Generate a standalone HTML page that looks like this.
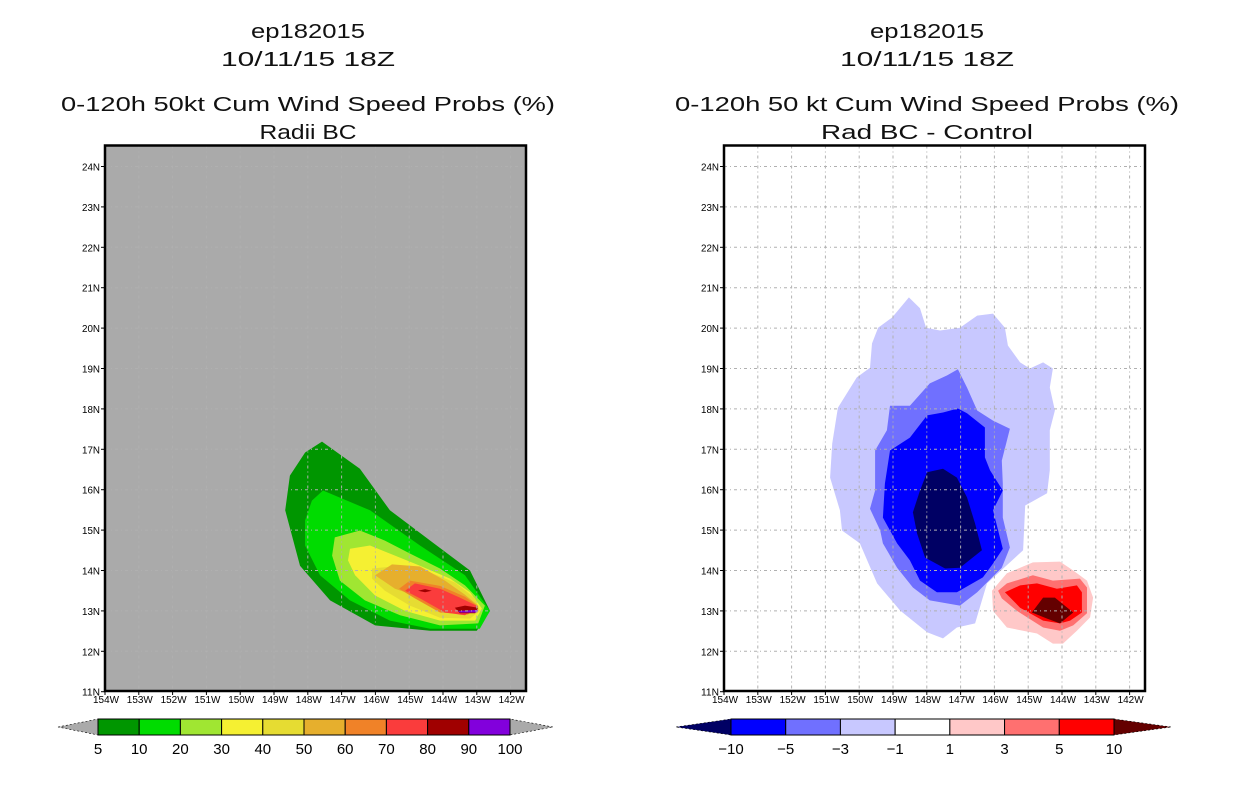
<!DOCTYPE html>
<html><head><meta charset="utf-8"><style>
html,body{margin:0;padding:0;background:#fff;}
svg{display:block;font-family:"Liberation Sans",sans-serif;}
</style></head><body>
<svg id="chart" width="1236" height="800" viewBox="0 0 1236 800" xmlns="http://www.w3.org/2000/svg"></svg>
<script>
// ---------- data ----------
const lonTicks = [-154,-153,-152,-151,-150,-149,-148,-147,-146,-145,-144,-143,-142];
const lonLabels = ["154W","153W","152W","151W","150W","149W","148W","147W","146W","145W","144W","143W","142W"];
const latTicks = [11,12,13,14,15,16,17,18,19,20,21,22,23,24];
const latLabels = ["11N","12N","13N","14N","15N","16N","17N","18N","19N","20N","21N","22N","23N","24N"];

// left panel contour levels (probability %) and polygons [lon,lat]
const probLevels = [5,10,20,30,40,50,60,70,80,90,100];
const probColors = ["#009600","#00dc00","#a0e632","#f5f032","#e6dc32","#e6af2d","#f08228","#fa3c3c","#a00000","#8200dc"];
const prob5 = [[-147.58,17.19],[-146.46,16.52],[-145.57,15.49],[-144.38,14.74],[-143.2,14.0],[-142.61,13.0],[-143.0,12.51],[-144.38,12.51],[-146.01,12.64],[-147.34,13.26],[-148.23,14.12],[-148.67,15.49],[-148.53,16.35],[-148.08,16.92]];
const prob10 = [[-147.55,15.98],[-146.16,15.49],[-144.68,14.62],[-143.35,13.88],[-142.61,13.0],[-142.91,12.56],[-144.38,12.56],[-145.57,12.76],[-146.75,13.26],[-147.64,13.88],[-148.08,14.62],[-148.08,15.24],[-147.88,15.73]];
const prob20 = [[-147.2,14.82],[-146.46,14.99],[-145.72,14.74],[-144.98,14.42],[-144.09,14.05],[-143.35,13.63],[-142.76,13.13],[-142.96,12.69],[-144.09,12.64],[-145.27,12.89],[-146.31,13.26],[-147.05,13.75],[-147.28,14.37]];
const prob30 = [[-146.75,14.54],[-146.16,14.62],[-145.42,14.37],[-144.68,14.12],[-143.79,13.8],[-143.2,13.46],[-142.85,13.06],[-143.05,12.76],[-144.09,12.76],[-145.12,13.0],[-146.01,13.38],[-146.6,13.88],[-146.81,14.25]];
const prob40 = [[-146.1,14.05],[-145.27,14.12],[-144.38,13.95],[-143.64,13.7],[-143.05,13.31],[-142.91,13.0],[-143.2,12.81],[-144.09,12.83],[-144.98,13.13],[-145.72,13.5],[-146.1,13.8]];
const prob50 = [[-146.01,13.88],[-145.51,14.15],[-144.68,14.1],[-143.94,13.75],[-143.35,13.4],[-142.96,13.13],[-143.2,12.94],[-144.09,13.06],[-144.83,13.38],[-145.42,13.55]];
const prob60 = [[-145.3,13.55],[-144.98,13.75],[-144.09,13.62],[-143.35,13.35],[-142.96,13.11],[-143.26,12.91],[-144.09,12.96],[-144.83,13.31]];
const prob70 = [[-145.12,13.5],[-144.83,13.68],[-144.09,13.55],[-143.5,13.33],[-142.96,13.11],[-143.35,12.89],[-143.94,12.96],[-144.68,13.31]];
const prob80a = [[-143.65,13.08],[-143.35,13.13],[-142.96,13.08],[-143.05,12.94],[-143.5,12.94]];
const prob80b = [[-144.74,13.5],[-144.53,13.54],[-144.33,13.5],[-144.53,13.46]];
const prob90 = [[-143.56,13.0],[-142.96,13.03],[-142.99,12.96],[-143.5,12.96]];

// right panel difference levels
const diffLevels = [-10,-5,-3,-1,1,3,5,10];
const diffColors = ["#000064","#0000ff","#7070ff","#c8c8ff","#ffffff","#ffc8c8","#ff7070","#ff0000","#640000"];
const diffM1 = [[-148.53,20.76],[-148.2,20.49],[-148.02,20.01],[-147.61,19.94],[-147.02,20.01],[-146.51,20.31],[-146.04,20.36],[-145.69,20.01],[-145.6,19.57],[-145.24,19.15],[-144.95,19.0],[-144.56,19.15],[-144.27,19.0],[-144.36,18.53],[-144.21,17.96],[-144.36,17.47],[-144.36,16.48],[-144.44,15.91],[-145.09,15.61],[-145.15,14.5],[-146.22,13.68],[-146.57,12.69],[-147.11,12.59],[-147.52,12.32],[-147.99,12.47],[-148.79,13.01],[-149.47,13.68],[-149.98,14.67],[-150.51,14.99],[-150.57,15.49],[-150.86,16.3],[-150.8,17.14],[-150.63,18.03],[-150.07,18.78],[-149.68,19.02],[-149.62,19.62],[-149.44,20.01],[-149.03,20.26]];
const diffM3 = [[-147.08,18.98],[-146.81,18.53],[-146.51,17.96],[-146.04,17.71],[-145.54,17.51],[-145.78,16.72],[-145.75,16.15],[-145.75,15.31],[-145.54,14.57],[-145.78,14.07],[-146.51,13.46],[-147.02,13.13],[-147.91,13.26],[-148.41,13.58],[-148.88,14.07],[-149.3,14.67],[-149.38,14.99],[-149.68,15.53],[-149.53,15.98],[-149.53,16.97],[-149.18,17.47],[-149.09,18.08],[-148.5,18.08],[-147.91,18.63],[-147.4,18.83]];
const diffM5 = [[-147.08,18.01],[-146.81,17.89],[-146.28,17.54],[-146.28,16.8],[-146.13,16.48],[-145.75,15.98],[-146.04,15.49],[-145.75,14.54],[-146.04,14.17],[-146.34,13.83],[-147.11,13.46],[-147.7,13.46],[-148.2,13.75],[-148.5,14.25],[-148.88,14.67],[-149.3,15.31],[-149.24,16.15],[-149.09,16.97],[-148.5,17.29],[-147.99,17.84],[-147.52,17.91]];
const diffM10 = [[-147.99,16.43],[-147.52,16.52],[-147.11,16.3],[-146.81,15.81],[-146.57,15.16],[-146.37,14.5],[-147.02,14.07],[-147.46,14.05],[-148.05,14.32],[-148.29,14.92],[-148.41,15.44],[-148.2,15.98]];
const diffP1 = [[-146.07,13.5],[-145.63,13.93],[-144.86,14.2],[-144.06,14.22],[-143.67,14.0],[-143.26,13.75],[-143.08,13.33],[-143.17,12.84],[-143.56,12.51],[-143.97,12.19],[-144.27,12.19],[-144.74,12.44],[-145.63,12.59],[-146.04,13.0]];
const diffP3 = [[-145.89,13.5],[-145.63,13.68],[-144.86,13.88],[-144.27,13.75],[-143.47,13.8],[-143.26,13.58],[-143.26,12.94],[-143.67,12.64],[-144.06,12.51],[-144.56,12.59],[-145.33,13.0],[-145.78,13.31]];
const diffP5 = [[-145.69,13.46],[-145.24,13.63],[-144.74,13.68],[-144.15,13.55],[-143.56,13.63],[-143.41,13.46],[-143.41,12.96],[-143.76,12.76],[-144.06,12.69],[-144.56,12.76],[-145.24,13.08]];
const diffP10 = [[-144.56,13.33],[-144.21,13.33],[-143.67,12.96],[-144.06,12.69],[-144.44,12.81],[-144.89,12.96]];

// ---------- drawing ----------
const NS = "http://www.w3.org/2000/svg";
const svg = document.getElementById("chart");
function mk(tag, attrs, parent){ const e=document.createElementNS(NS,tag); for(const k in attrs) e.setAttribute(k,attrs[k]); (parent||svg).appendChild(e); return e; }

function makePanel(x0){
  const left=x0, top=145.5, right=x0+421, bottom=691;
  const xs = lon => x0 + (lon + 154) * 33.8;
  const ys = lat => 166.5 + (24 - lat) * 40.4;
  return {left,top,right,bottom,xs,ys};
}
const P1 = makePanel(105), P2 = makePanel(724);

function title(lines, cx){
  lines.forEach(l=>{
    const t = mk("text",{x:cx,y:l.y,"text-anchor":"middle","font-size":20,textLength:l.w,lengthAdjust:"spacingAndGlyphs",fill:"#111"});
    
    
    t.textContent = l.t;
  });
}
title([{t:"ep182015",y:38,w:114,name:"case-id-title"},{t:"10/11/15 18Z",y:66,w:174,name:"date-title"},
       {t:"0-120h 50kt Cum Wind Speed Probs (%)",y:111,w:494,name:"chart-title"},{t:"Radii BC",y:139,w:97,name:"chart-subtitle"}],308);
title([{t:"ep182015",y:38,w:114,name:"case-id-title"},{t:"10/11/15 18Z",y:66,w:174,name:"date-title"},
       {t:"0-120h 50 kt Cum Wind Speed Probs (%)",y:111,w:504,name:"chart-title"},{t:"Rad BC - Control",y:139,w:212,name:"chart-subtitle"}],927);

function poly(P, pts, color, name, g){
  const p = mk("polygon",{points: pts.map(d=>P.xs(d[0]).toFixed(1)+","+P.ys(d[1]).toFixed(1)).join(" "), fill:color}, g);
  
  
}

function drawPanel(P, bg, polys, pname){
  const g = mk("g",{});
  
  
  const cid = pname+"-clip";
  const cp = mk("clipPath",{id:cid}, g);
  mk("rect",{x:P.left,y:P.top,width:P.right-P.left,height:P.bottom-P.top},cp);
  const bgr = mk("rect",{x:P.left,y:P.top,width:P.right-P.left,height:P.bottom-P.top,fill:bg},g);
  
  
  const cg = mk("g",{"clip-path":"url(#"+cid+")"},g);
  polys.forEach(pp=>poly(P, pp.d, pp.c, pp.n, cg));
  // grid
  const grid = mk("g",{stroke:"#b0b0b0","stroke-width":1,"stroke-dasharray":"3,3,1,3"},cg);
  
  
  lonTicks.forEach(v=>{ if(v>-154) mk("line",{x1:P.xs(v),x2:P.xs(v),y1:P.top,y2:P.bottom},grid); });
  latTicks.forEach(v=>{ if(v>11) mk("line",{x1:P.left,x2:P.right,y1:P.ys(v),y2:P.ys(v)},grid); });
  // frame
  const fr = mk("rect",{x:P.left,y:P.top,width:P.right-P.left,height:P.bottom-P.top,fill:"none",stroke:"#000","stroke-width":2.5},g);
  
  
  // ticks
  const xa = mk("g",{},g);
  
  
  lonTicks.forEach((v,i)=>{
    mk("line",{x1:P.xs(v),x2:P.xs(v),y1:P.bottom,y2:P.bottom+4,stroke:"#000"},xa);
    const t = mk("text",{x:P.xs(v)+1,y:P.bottom+12,"text-anchor":"middle","font-size":10,textLength:26,lengthAdjust:"spacingAndGlyphs"},xa);
    
    
    t.textContent = lonLabels[i];
  });
  const ya = mk("g",{},g);
  
  
  latTicks.forEach((v,i)=>{
    mk("line",{x1:P.left-4,x2:P.left,y1:P.ys(v),y2:P.ys(v),stroke:"#000"},ya);
    const t = mk("text",{x:P.left-5,y:P.ys(v)+4,"text-anchor":"end","font-size":10,textLength:18,lengthAdjust:"spacingAndGlyphs"},ya);
    
    
    t.textContent = latLabels[i];
  });
}

drawPanel(P1, "#aaaaaa", [
  {d:prob5,c:probColors[0],n:"contour-5"},{d:prob10,c:probColors[1],n:"contour-10"},{d:prob20,c:probColors[2],n:"contour-20"},
  {d:prob30,c:probColors[3],n:"contour-30"},{d:prob40,c:probColors[4],n:"contour-40"},{d:prob50,c:probColors[5],n:"contour-50"},
  {d:prob60,c:probColors[6],n:"contour-60"},{d:prob70,c:probColors[7],n:"contour-70"},{d:prob80a,c:probColors[8],n:"contour-80"},
  {d:prob80b,c:probColors[8],n:"contour-80-small"},{d:prob90,c:probColors[9],n:"contour-90"}
], "left-panel");

drawPanel(P2, "#ffffff", [
  {d:diffM1,c:diffColors[3],n:"contour-minus-1"},{d:diffM3,c:diffColors[2],n:"contour-minus-3"},
  {d:diffM5,c:diffColors[1],n:"contour-minus-5"},{d:diffM10,c:diffColors[0],n:"contour-minus-10"},
  {d:diffP1,c:diffColors[5],n:"contour-plus-1"},{d:diffP3,c:diffColors[6],n:"contour-plus-3"},
  {d:diffP5,c:diffColors[7],n:"contour-plus-5"},{d:diffP10,c:diffColors[8],n:"contour-plus-10"}
], "right-panel");

// colorbars
function colorbar(x0, x1, tipL, tipR, levels, boxColors, lowColor, highColor, name){
  const g = mk("g",{});
  
  
  const y0=719, y1=735, ym=(y0+y1)/2;
  const n = boxColors.length, w=(x1-x0)/n;
  const tl = mk("polygon",{points:`${tipL},${ym} ${x0},${y0} ${x0},${y1}`,fill:lowColor,stroke:"#000","stroke-width":0.6,"stroke-dasharray":"2,2"},g);
  
  
  const tr = mk("polygon",{points:`${tipR},${ym} ${x1},${y0} ${x1},${y1}`,fill:highColor,stroke:"#000","stroke-width":0.6,"stroke-dasharray":"2,2"},g);
  
  
  boxColors.forEach((c,i)=>{
    const r = mk("rect",{x:x0+i*w,y:y0,width:w,height:y1-y0,fill:c,stroke:"#000","stroke-width":1},g);
    
    
  });
  levels.forEach((v,i)=>{
    const t = mk("text",{x:x0+i*w,y:754,"text-anchor":"middle","font-size":15},g);
    
    
    t.textContent = (v<0?"\u2212":"")+Math.abs(v);
  });
}
colorbar(98, 510, 58, 553, probLevels, probColors, "#aaaaaa", "#aaaaaa", "left-colorbar");
colorbar(731, 1114, 676, 1171, diffLevels, diffColors.slice(1,8), diffColors[0], diffColors[8], "right-colorbar");
</script>
</body></html>
